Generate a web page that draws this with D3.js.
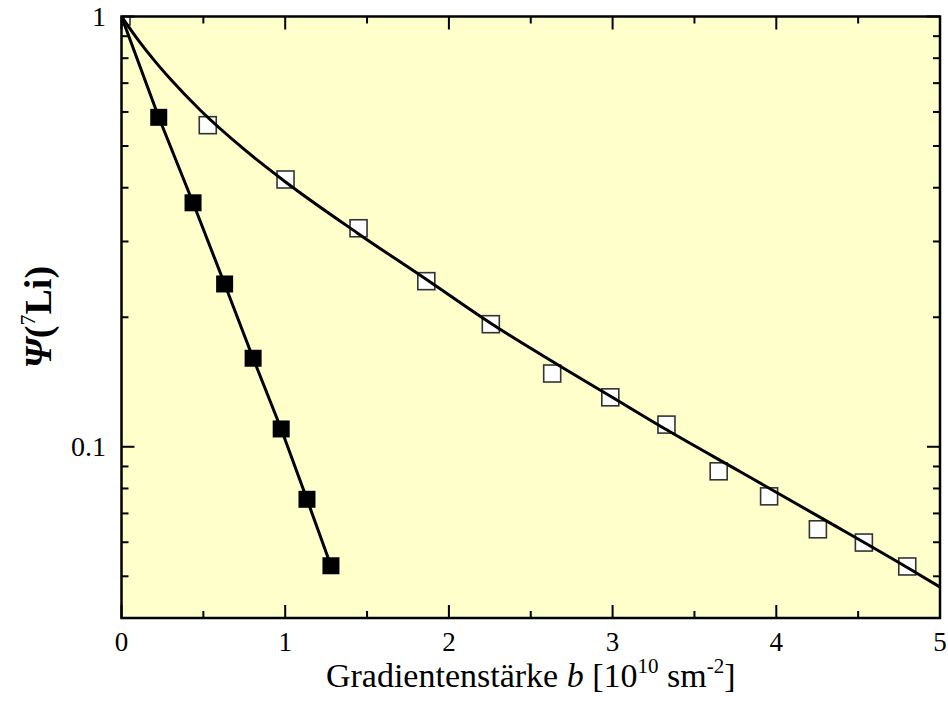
<!DOCTYPE html>
<html>
<head>
<meta charset="utf-8">
<script src="https://cdn.jsdelivr.net/npm/d3@7"></script>
<style>
  html, body { margin: 0; padding: 0; background: #ffffff; }
  svg { display: block; }
  text { font-family: "Liberation Serif", "Times New Roman", serif; fill: #000; }
</style>
</head>
<body>
<svg id="chart" width="948" height="707"></svg>
<script>
// Gradient strength b [10^10 s m^-2] and normalised echo attenuation Psi(7Li)
const slowB   = [0, 0.527, 1.002, 1.448, 1.862, 2.256, 2.631, 2.986, 3.329, 3.648, 3.956, 4.254, 4.535, 4.800];
const slowPsi = [1, 0.559, 0.418, 0.322, 0.2426, 0.1927, 0.148, 0.1303, 0.1126, 0.0877, 0.0767, 0.0643, 0.0599, 0.0527];

const fastB   = [0.2275, 0.437, 0.630, 0.804, 0.9755, 1.133, 1.2795];
const fastPsi = [0.583, 0.369, 0.239, 0.1606, 0.110, 0.0755, 0.0529];

// fitted curves
const slowFitB   = [0, 0.1, 0.2, 0.3, 0.48, 0.75, 1.0, 1.44, 1.87, 2.26, 2.66, 2.99, 3.33, 3.78, 4.29, 4.80, 5.0];
const slowFitPsi = [1, 0.884, 0.7907, 0.7145, 0.6062, 0.4909, 0.413, 0.3141, 0.2438, 0.1932, 0.1556, 0.1309, 0.1095, 0.0875, 0.0678, 0.0524, 0.0472];

const fastFitB   = [0, 0.2275, 0.437, 0.630, 0.804, 0.9755, 1.133, 1.2795];
const fastFitPsi = [1, 0.583, 0.369, 0.239, 0.1606, 0.110, 0.0755, 0.0529];

// axis ticks
const xMajorTicks = [0, 1, 2, 3, 4, 5];
const xMinorTicks = [0.5, 1.5, 2.5, 3.5, 4.5];
const yMajorTicks = [1, 0.1];
const yMajorLabels = ["1", "0.1"];
const yMinorTicks = [0.9, 0.8, 0.7, 0.6, 0.5, 0.4, 0.3, 0.2, 0.09, 0.08, 0.07, 0.06, 0.05];

const svg = d3.select("#chart");
const m = { left: 121.5, top: 16.5, right: 940, bottom: 618 };

const x = d3.scaleLinear().domain([0, 5]).range([m.left, m.right]);
const y = d3.scaleLog().domain([0.04, 1]).range([m.bottom, m.top]);

// plot background
svg.append("rect")
  .attr("x", m.left).attr("y", m.top)
  .attr("width", m.right - m.left).attr("height", m.bottom - m.top)
  .attr("fill", "#ffffcc");

svg.append("clipPath").attr("id", "plotClip")
  .append("rect")
  .attr("x", m.left).attr("y", m.top)
  .attr("width", m.right - m.left).attr("height", m.bottom - m.top);

const plot = svg.append("g").attr("clip-path", "url(#plotClip)");

const sq = 17;

// open squares (slow component)
plot.append("g").selectAll("rect")
  .data(d3.zip(slowB, slowPsi))
  .join("rect")
  .attr("x", d => x(d[0]) - sq / 2)
  .attr("y", d => y(d[1]) - sq / 2)
  .attr("width", sq).attr("height", sq)
  .attr("fill", "#fdfdfd")
  .attr("stroke", "#333")
  .attr("stroke-width", 1.6);

const line = d3.line()
  .x(d => x(d[0]))
  .y(d => y(d[1]));

plot.append("path")
  .datum(d3.zip(slowFitB, slowFitPsi))
  .attr("d", line.curve(d3.curveMonotoneX))
  .attr("fill", "none")
  .attr("stroke", "#000")
  .attr("stroke-width", 3);

plot.append("path")
  .datum(d3.zip(fastFitB, fastFitPsi))
  .attr("d", d3.line().x(d => x(d[0])).y(d => y(d[1])))
  .attr("fill", "none")
  .attr("stroke", "#000")
  .attr("stroke-width", 3);

// filled squares (fast component)
plot.append("g").selectAll("rect")
  .data(d3.zip(fastB, fastPsi))
  .join("rect")
  .attr("x", d => x(d[0]) - sq / 2)
  .attr("y", d => y(d[1]) - sq / 2)
  .attr("width", sq).attr("height", sq)
  .attr("fill", "#000");

// ticks (inward, mirrored on all sides)
const ticks = svg.append("g").attr("stroke", "#000").attr("stroke-width", 2);
const majLen = 13, minLen = 7;

xMajorTicks.forEach(v => {
  ticks.append("line").attr("x1", x(v)).attr("x2", x(v)).attr("y1", m.bottom).attr("y2", m.bottom - majLen);
  ticks.append("line").attr("x1", x(v)).attr("x2", x(v)).attr("y1", m.top).attr("y2", m.top + majLen);
});
xMinorTicks.forEach(v => {
  ticks.append("line").attr("x1", x(v)).attr("x2", x(v)).attr("y1", m.bottom).attr("y2", m.bottom - minLen);
  ticks.append("line").attr("x1", x(v)).attr("x2", x(v)).attr("y1", m.top).attr("y2", m.top + minLen);
});
yMajorTicks.forEach(v => {
  ticks.append("line").attr("y1", y(v)).attr("y2", y(v)).attr("x1", m.left).attr("x2", m.left + majLen);
  ticks.append("line").attr("y1", y(v)).attr("y2", y(v)).attr("x1", m.right).attr("x2", m.right - majLen);
});
yMinorTicks.forEach(v => {
  ticks.append("line").attr("y1", y(v)).attr("y2", y(v)).attr("x1", m.left).attr("x2", m.left + minLen);
  ticks.append("line").attr("y1", y(v)).attr("y2", y(v)).attr("x1", m.right).attr("x2", m.right - minLen);
});

// frame
svg.append("rect")
  .attr("x", m.left).attr("y", m.top)
  .attr("width", m.right - m.left).attr("height", m.bottom - m.top)
  .attr("fill", "none")
  .attr("stroke", "#000")
  .attr("stroke-width", 2.5);

// tick labels
svg.append("g").selectAll("text")
  .data(xMajorTicks)
  .join("text")
  .attr("x", d => x(d))
  .attr("y", 651)
  .attr("text-anchor", "middle")
  .attr("font-family", "Liberation Serif")
  .attr("font-size", 27)
  .text(d => d3.format("d")(d));

svg.append("g").selectAll("text")
  .data(yMajorTicks)
  .join("text")
  .attr("x", 106)
  .attr("y", d => y(d) + 9.5)
  .attr("text-anchor", "end")
  .attr("font-family", "Liberation Serif")
  .attr("font-size", 28)
  .text((d, i) => yMajorLabels[i]);

// x axis title
const xt = svg.append("text")
  .attr("x", (m.left + m.right) / 2)
  .attr("y", 687)
  .attr("text-anchor", "middle")
  .attr("font-family", "Liberation Serif")
  .attr("font-size", 34);
xt.append("tspan").text("Gradientenstärke ");
xt.append("tspan").attr("font-style", "italic").text("b");
xt.append("tspan").text(" [10");
xt.append("tspan").attr("font-size", 21).attr("dy", -14).text("10");
xt.append("tspan").attr("dy", 14).text(" sm");
xt.append("tspan").attr("font-size", 21).attr("dy", -14).text("-2");
xt.append("tspan").attr("dy", 14).text("]");

// y axis title
const yt = svg.append("text")
  .attr("transform", `translate(51, ${(m.top + m.bottom) / 2}) rotate(-90)`)
  .attr("text-anchor", "middle")
  .attr("font-family", "Liberation Serif")
  .attr("font-size", 38)
  .attr("font-weight", "bold");
yt.append("tspan").attr("font-style", "italic").text("Ψ");
yt.append("tspan").text("(");
yt.append("tspan").attr("font-size", 22).attr("font-weight", "normal").attr("dy", -16).text("7");
yt.append("tspan").attr("dy", 16).text("Li)");
</script>
</body>
</html>
